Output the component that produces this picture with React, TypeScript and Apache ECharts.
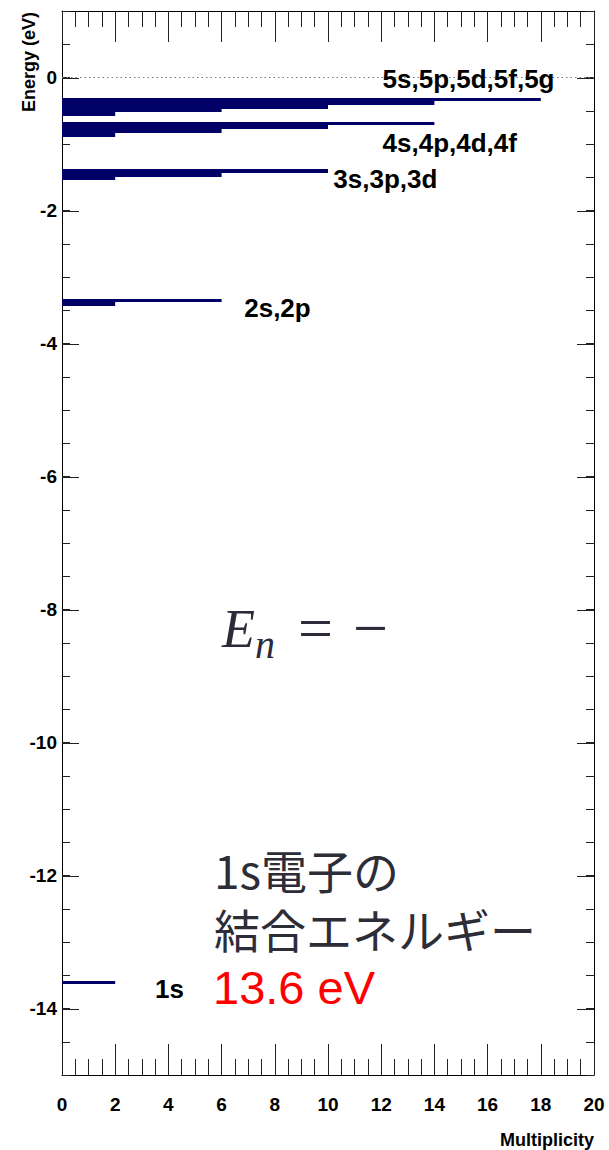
import React, { useEffect, useRef } from "react";
import * as echarts from "echarts";

// ---- data ----
const shellNumbers = [1, 2, 3, 4, 5];
const shellEnergies = [-13.6, -3.4, -1.51, -0.85, -0.544]; // eV
const subshellLetters = ["s", "p", "d", "f", "g"];
const subshellMultiplicity = [2, 6, 10, 14, 18];
const labelX = [3.5, 6.85, 10.2, 12.05, 12.05];
const labelY = [-13.7, -3.47, -1.53, -0.99, -0.03];
const ionizationEnergy = 0;
const xRange = [0, 20];
const yRange = [-15, 1];
const yMajorTicks = [-14, -12, -10, -8, -6, -4, -2, 0];
const xTitle = "Multiplicity";
const yTitle = "Energy (eV)";
const noteLines = ["1s電子の", "結合エネルギー"];
const noteValue = "13.6 eV";

const NAVY = "#000066";
const SANS = "'Liberation Sans', Arial, sans-serif";

export default function App() {
  const ref = useRef<HTMLDivElement>(null);
  useEffect(() => {
    document.body.style.margin = "0";
    if (!ref.current) return;
    const chart = echarts.init(ref.current, undefined, { renderer: "svg" });

    const levelData: number[][] = [];
    shellNumbers.forEach((n, i) => {
      for (let l = n - 1; l >= 0; l--) {
        levelData.push([subshellMultiplicity[l], shellEnergies[i], l]);
      }
    });
    const labelData = shellNumbers.map((n, i) => ({
      value: [labelX[i], labelY[i]],
      name: subshellLetters.slice(0, n).map((s) => `${n}${s}`).join(","),
    }));

    const axisLineStyle = { color: "#000", width: 1 };
    const tickStyle = { color: "#222", width: 1 };
    const xAxisBase = {
      type: "value",
      min: xRange[0],
      max: xRange[1],
      interval: 2,
      axisLine: { show: true, onZero: false, lineStyle: axisLineStyle },
      axisTick: { show: true, inside: true, length: 31, lineStyle: tickStyle },
      minorTick: { show: true, splitNumber: 4, length: 16, lineStyle: tickStyle },
      splitLine: { show: false },
      minorSplitLine: { show: false },
    };
    const yAxisBase = {
      type: "value",
      min: yRange[0],
      max: yRange[1],
      interval: 0.5,
      axisLine: { show: true, onZero: false, lineStyle: axisLineStyle },
      axisTick: { show: true, inside: true, length: 8, lineStyle: tickStyle },
      splitLine: { show: false },
    };

    const pitch = 3.7;

    const option: any = {
      animation: false,
      backgroundColor: "#fff",
      grid: { left: 62, right: 15, top: 11, bottom: 75, containLabel: false },
      xAxis: [
        {
          ...xAxisBase,
          position: "bottom",
          axisLabel: {
            show: true,
            margin: 20,
            color: "#000",
            fontFamily: SANS,
            fontWeight: "bold",
            fontSize: 19,
          },
        },
        { ...xAxisBase, position: "top", axisLabel: { show: false } },
      ],
      yAxis: [
        {
          ...yAxisBase,
          position: "left",
          axisLabel: {
            show: true,
            margin: 5,
            color: "#000",
            fontFamily: SANS,
            fontWeight: "bold",
            fontSize: 19,
            formatter: (v: number) => (yMajorTicks.indexOf(v) >= 0 ? String(v) : ""),
          },
        },
        { ...yAxisBase, position: "right", axisLabel: { show: false } },
      ],
      series: [
        {
          type: "line",
          xAxisIndex: 0,
          yAxisIndex: 0,
          data: [
            [xRange[0], ionizationEnergy],
            [xRange[1], ionizationEnergy],
          ],
          symbol: "none",
          lineStyle: { color: "#777", width: 1, type: [1.5, 3] },
          z: 1,
        },
        {
          type: "custom",
          xAxisIndex: 0,
          yAxisIndex: 0,
          data: yMajorTicks.map((v) => [xRange[0], v]),
          renderItem: (params: any, api: any) => {
            const v = api.value(1);
            const a = api.coord([xRange[0], v]);
            const b = api.coord([xRange[1], v]);
            const y = Math.round(a[1]) + 0.5;
            return {
              type: "group",
              children: [
                { type: "line", shape: { x1: a[0], y1: y, x2: a[0] + 17, y2: y }, style: { stroke: "#222", lineWidth: 1 } },
                { type: "line", shape: { x1: b[0] - 17, y1: y, x2: b[0], y2: y }, style: { stroke: "#222", lineWidth: 1 } },
              ],
            };
          },
          z: 3,
        },
        {
          type: "custom",
          xAxisIndex: 0,
          yAxisIndex: 0,
          data: levelData,
          renderItem: (params: any, api: any) => {
            const m = api.value(0);
            const e = api.value(1);
            const l = api.value(2);
            const p0 = api.coord([xRange[0], e]);
            const p1 = api.coord([m, e]);
            const base = p0[1] + 2.5; // bottom edge of the s line
            const bottom = Math.round(base - l * pitch);
            const top = Math.round(base - (l + 1) * pitch);
            return {
              type: "rect",
              shape: { x: p0[0], y: top, width: p1[0] - p0[0], height: bottom - top },
              style: { fill: NAVY },
            };
          },
          z: 4,
        },
        {
          type: "custom",
          xAxisIndex: 0,
          yAxisIndex: 0,
          data: labelData,
          renderItem: (params: any, api: any) => {
            const p = api.coord([api.value(0), api.value(1)]);
            return {
              type: "text",
              x: p[0],
              y: p[1],
              style: {
                text: labelData[params.dataIndex].name,
                fill: "#000",
                font: `bold 26px ${SANS}`,
                align: "left",
                verticalAlign: "middle",
              },
            };
          },
          z: 5,
        },
      ],
      graphic: [
        {
          type: "text",
          x: 29,
          y: 12,
          rotation: Math.PI / 2,
          style: {
            text: yTitle,
            fill: "#000",
            font: `bold 18px ${SANS}`,
            align: "right",
            verticalAlign: "middle",
          },
        },
        {
          type: "text",
          x: 594,
          y: 1140,
          style: {
            text: xTitle,
            fill: "#000",
            font: `bold 18px ${SANS}`,
            align: "right",
            verticalAlign: "middle",
          },
        },
        // formula fragment
        {
          type: "text",
          x: 222,
          y: 629,
          style: {
            text: "E",
            fill: "#2b2b3a",
            font: `italic 54px 'Liberation Serif', serif`,
            align: "left",
            verticalAlign: "middle",
          },
        },
        {
          type: "text",
          x: 255,
          y: 644,
          style: {
            text: "n",
            fill: "#2b2b3a",
            font: `italic 40px 'Liberation Serif', serif`,
            align: "left",
            verticalAlign: "middle",
          },
        },
        {
          type: "text",
          x: 298,
          y: 628,
          style: {
            text: "=",
            fill: "#2b2b3a",
            font: `62px 'Liberation Serif', serif`,
            align: "left",
            verticalAlign: "middle",
          },
        },
        {
          type: "text",
          x: 353,
          y: 628,
          style: {
            text: "\u2212",
            fill: "#2b2b3a",
            font: `62px 'Liberation Serif', serif`,
            align: "left",
            verticalAlign: "middle",
          },
        },
        // note
        {
          type: "text",
          x: 214,
          y: 869,
          style: {
            text: noteLines[0],
            fill: "#2d2d38",
            font: `46px 'Noto Sans CJK JP', sans-serif`,
            align: "left",
            verticalAlign: "middle",
          },
        },
        {
          type: "text",
          x: 214,
          y: 928,
          style: {
            text: noteLines[1],
            fill: "#2d2d38",
            font: `46px 'Noto Sans CJK JP', sans-serif`,
            align: "left",
            verticalAlign: "middle",
          },
        },
        {
          type: "text",
          x: 213,
          y: 987,
          style: {
            text: noteValue,
            fill: "#ff0000",
            font: `47px ${SANS}`,
            align: "left",
            verticalAlign: "middle",
          },
        },
      ],
    };
    chart.setOption(option);
    return () => chart.dispose();
  }, []);
  return (
    <div
      ref={ref}
      style={{ position: "absolute", left: 0, top: 0, width: 609, height: 1150 }}
    />
  );
}
